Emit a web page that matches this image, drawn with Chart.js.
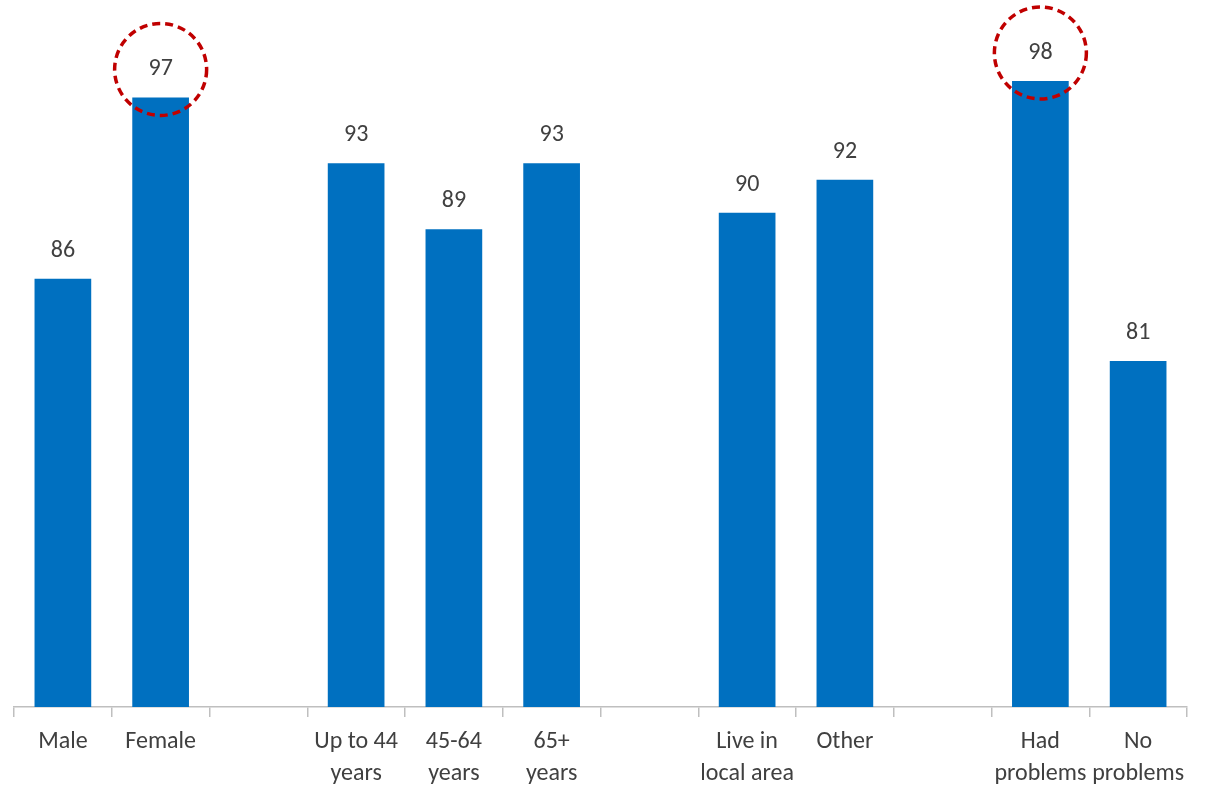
<!DOCTYPE html>
<html>
<head>
<meta charset="utf-8">
<script src="https://cdn.jsdelivr.net/npm/chart.js@4"></script>
<style>
  html, body { margin: 0; padding: 0; background: #fff; }
  #wrap { width: 1209px; height: 789px; position: relative; }
</style>
</head>
<body>
<div id="wrap"><canvas id="myChart"></canvas></div>
<script>
// Categories (blank entries are the gaps between groups)
var categories = [
    'Male', 'Female', '',
    ['Up to 44', 'years'], ['45-64', 'years'], ['65+', 'years'], '',
    ['Live in', 'local area'], 'Other', '',
    ['Had', 'problems'], ['No', 'problems']
];
var values = [86, 97, null, 93, 89, 93, null, 90, 92, null, 98, 81];
// bars whose value label gets the red dashed circle
var circled = ['Female', 'Had'];

var fontFamily = 'Carlito, Lato, "Open Sans", sans-serif';
var textColour = '#404040';

// Value labels above each bar
var valueLabels = {
    id: 'valueLabels',
    afterDatasetsDraw: function(chart) {
        var ctx = chart.ctx;
        var meta = chart.getDatasetMeta(0);
        ctx.save();
        ctx.font = '24px ' + fontFamily;
        ctx.fillStyle = textColour;
        ctx.textAlign = 'center';
        ctx.textBaseline = 'middle';
        meta.data.forEach(function(bar, i) {
            if (values[i] === null) return;
            ctx.fillText(values[i], bar.x, bar.y - 28);
        });
        ctx.restore();
    }
};

// Dashed circles round the highlighted labels
var highlightCircles = {
    id: 'highlightCircles',
    afterDatasetsDraw: function(chart) {
        var ctx = chart.ctx;
        var meta = chart.getDatasetMeta(0);
        ctx.save();
        ctx.strokeStyle = '#c00000';
        ctx.lineWidth = 3.5;
        ctx.setLineDash([8, 5]);
        meta.data.forEach(function(bar, i) {
            var lab = categories[i];
            var first = Array.isArray(lab) ? lab[0] : lab;
            if (circled.indexOf(first) < 0) return;
            ctx.beginPath();
            ctx.arc(bar.x, bar.y - 28, 46, 0, Math.PI * 2);
            ctx.stroke();
        });
        ctx.restore();
    }
};

var ctx = document.getElementById('myChart').getContext('2d');
var myChart = new Chart(ctx, {
    type: 'bar',
    data: {
        labels: categories,
        datasets: [{
            data: values,
            backgroundColor: '#0070c0',
            borderWidth: 0,
            barPercentage: 0.58,
            categoryPercentage: 1
        }]
    },
    options: {
        responsive: true,
        maintainAspectRatio: false,
        animation: false,
        layout: { padding: { top: 48, left: 14, right: 22, bottom: -10 } },
        plugins: {
            legend: { display: false },
            tooltip: { enabled: false }
        },
        scales: {
            x: {
                grid: {
                    offset: true,
                    drawOnChartArea: false,
                    drawTicks: true,
                    tickLength: 10,
                    color: '#bfbfbf',
                    lineWidth: 1.5
                },
                border: { color: '#bfbfbf', width: 1.5 },
                ticks: {
                    autoSkip: false,
                    maxRotation: 0,
                    minRotation: 0,
                    padding: 9,
                    color: textColour,
                    font: { family: fontFamily, size: 24, lineHeight: 1.333 }
                }
            },
            y: {
                display: false,
                min: 60,
                max: 100
            }
        }
    },
    plugins: [valueLabels, highlightCircles]
});
</script>
</body>
</html>
